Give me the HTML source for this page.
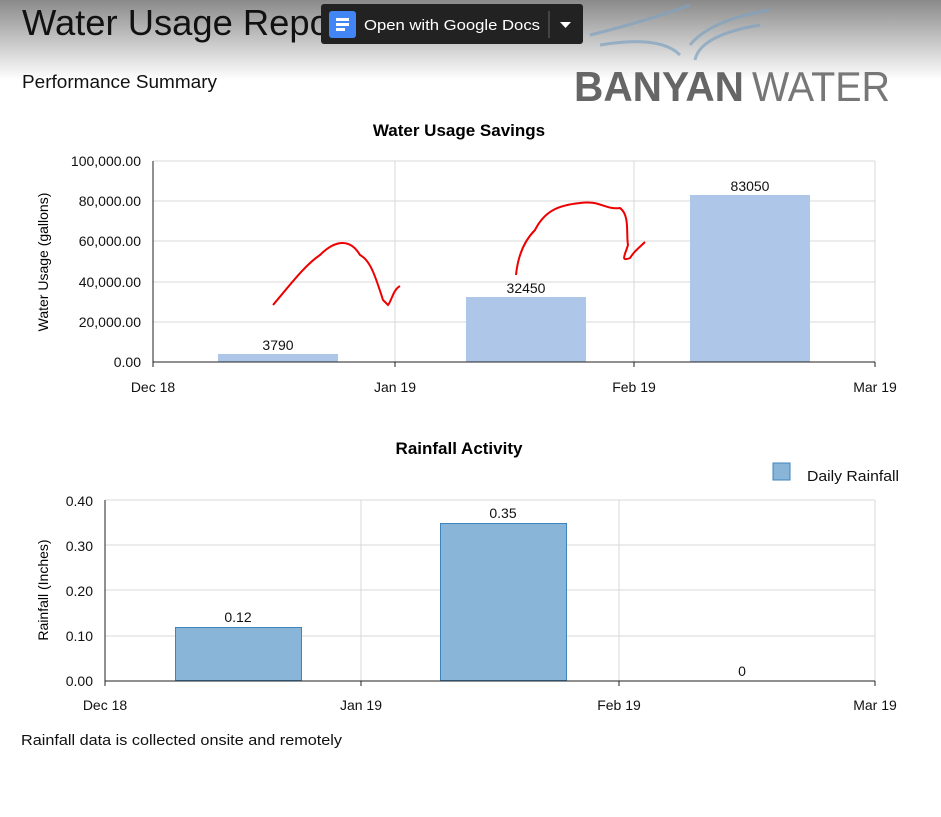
<!DOCTYPE html>
<html><head><style>
body{margin:0;width:941px;height:817px;overflow:hidden;background:#fff;font-family:"Liberation Sans",sans-serif;position:relative}
.top{position:absolute;left:0;top:0;width:941px;height:80px;background:linear-gradient(#8a8a8a,#fff)}
</style></head><body>
<div class="top"></div>
<svg width="941" height="817" style="position:absolute;left:0;top:0" font-family="Liberation Sans, sans-serif">
<text x="22" y="35" font-size="36" fill="#111" textLength="330" lengthAdjust="spacingAndGlyphs">Water Usage Report</text>
<text x="22" y="88" font-size="18" fill="#111" textLength="195" lengthAdjust="spacingAndGlyphs">Performance Summary</text>
<path d="M590 35 Q650 20 690 5 M770 10 Q710 20 690 45 M600 45 Q660 35 680 55 M760 25 Q700 35 695 60" stroke="#7fa3c0" stroke-width="3" fill="none" opacity="0.7"/>
<text x="574" y="101" font-size="42" fill="#666" font-weight="bold" textLength="170" lengthAdjust="spacingAndGlyphs">BANYAN</text>
<text x="752" y="101" font-size="42" fill="#777" textLength="138" lengthAdjust="spacingAndGlyphs">WATER</text>
<rect x="321" y="4" width="262" height="40" rx="3" fill="#222"/>
<rect x="329" y="11" width="27" height="27" rx="3" fill="#4285f4"/>
<rect x="336" y="18" width="13" height="3" fill="#fff"/><rect x="336" y="23" width="13" height="3" fill="#fff"/><rect x="336" y="28" width="9" height="3" fill="#fff"/>
<text x="364" y="30" font-size="15" fill="#fff" textLength="176" lengthAdjust="spacingAndGlyphs">Open with Google Docs</text>
<line x1="549" y1="11" x2="549" y2="38" stroke="#666"/>
<path d="M560 22 L571 22 L565.5 28 Z" fill="#fff"/>

<text x="459" y="136" font-size="17" font-weight="bold" text-anchor="middle">Water Usage Savings</text>
<g stroke="#d8d8d8">
<line x1="153" y1="161" x2="875" y2="161"/><line x1="153" y1="201" x2="875" y2="201"/><line x1="153" y1="241" x2="875" y2="241"/><line x1="153" y1="282" x2="875" y2="282"/><line x1="153" y1="322" x2="875" y2="322"/>
<line x1="395" y1="161" x2="395" y2="362"/><line x1="634" y1="161" x2="634" y2="362"/><line x1="875" y1="161" x2="875" y2="362"/>
</g>
<rect x="218" y="354" width="120" height="8" fill="#aec7e8"/>
<rect x="466" y="297" width="120" height="65" fill="#aec7e8"/>
<rect x="690" y="195" width="120" height="167" fill="#aec7e8"/>
<line x1="153" y1="161" x2="153" y2="367" stroke="#222"/>
<line x1="153" y1="362" x2="875" y2="362" stroke="#222"/>
<g stroke="#222"><line x1="395" y1="362" x2="395" y2="367"/><line x1="634" y1="362" x2="634" y2="367"/><line x1="875" y1="362" x2="875" y2="367"/></g>
<g font-size="14" text-anchor="end" fill="#111">
<text x="141" y="166">100,000.00</text><text x="141" y="206">80,000.00</text><text x="141" y="246">60,000.00</text><text x="141" y="287">40,000.00</text><text x="141" y="327">20,000.00</text><text x="141" y="367">0.00</text>
</g>
<g font-size="14" text-anchor="middle" fill="#111">
<text x="153" y="392">Dec 18</text><text x="395" y="392">Jan 19</text><text x="634" y="392">Feb 19</text><text x="875" y="392">Mar 19</text>
<text x="278" y="350">3790</text><text x="526" y="293">32450</text><text x="750" y="191">83050</text>
</g>
<text transform="translate(48,262) rotate(-90)" font-size="14" text-anchor="middle">Water Usage (gallons)</text>
<g stroke="#e00" stroke-width="2" fill="none">
<path d="M273 305 C290 285 305 265 320 255 C335 240 350 238 360 255 C370 260 375 275 383 300 L388 305 C392 300 393 290 400 286"/>
<path d="M516 275 C518 255 525 240 535 230 C545 210 560 205 580 203 C600 200 605 210 620 208 C630 215 626 235 628 245 C625 255 620 262 630 258 C635 250 640 247 645 242"/>
</g>

<text x="459" y="454" font-size="17" font-weight="bold" text-anchor="middle">Rainfall Activity</text>
<rect x="773" y="463" width="17" height="17" fill="#89b6d8" stroke="#3e84bd"/>
<text x="807" y="481" font-size="15" fill="#111" textLength="92" lengthAdjust="spacingAndGlyphs">Daily Rainfall</text>
<g stroke="#d8d8d8">
<line x1="105" y1="500" x2="875" y2="500"/><line x1="105" y1="545" x2="875" y2="545"/><line x1="105" y1="590" x2="875" y2="590"/><line x1="105" y1="636" x2="875" y2="636"/>
<line x1="361" y1="500" x2="361" y2="681"/><line x1="619" y1="500" x2="619" y2="681"/><line x1="875" y1="500" x2="875" y2="681"/>
</g>
<rect x="175.5" y="627.5" width="126" height="53" fill="#89b6d8" stroke="#3e84bd"/>
<rect x="440.5" y="523.5" width="126" height="157" fill="#89b6d8" stroke="#3e84bd"/>
<line x1="105" y1="500" x2="105" y2="686" stroke="#222"/>
<line x1="105" y1="681" x2="875" y2="681" stroke="#222"/>
<g stroke="#222"><line x1="361" y1="681" x2="361" y2="686"/><line x1="619" y1="681" x2="619" y2="686"/><line x1="875" y1="681" x2="875" y2="686"/></g>
<g font-size="14" text-anchor="end" fill="#111">
<text x="93" y="506">0.40</text><text x="93" y="551">0.30</text><text x="93" y="596">0.20</text><text x="93" y="641">0.10</text><text x="93" y="686">0.00</text>
</g>
<g font-size="14" text-anchor="middle" fill="#111">
<text x="105" y="710">Dec 18</text><text x="361" y="710">Jan 19</text><text x="619" y="710">Feb 19</text><text x="875" y="710">Mar 19</text>
<text x="238" y="622">0.12</text><text x="503" y="518">0.35</text><text x="742" y="676">0</text>
</g>
<text transform="translate(48,590) rotate(-90)" font-size="14" text-anchor="middle">Rainfall (Inches)</text>
<text x="21" y="745" font-size="15" fill="#111" textLength="321" lengthAdjust="spacingAndGlyphs">Rainfall data is collected onsite and remotely</text>
</svg>
</body></html>
